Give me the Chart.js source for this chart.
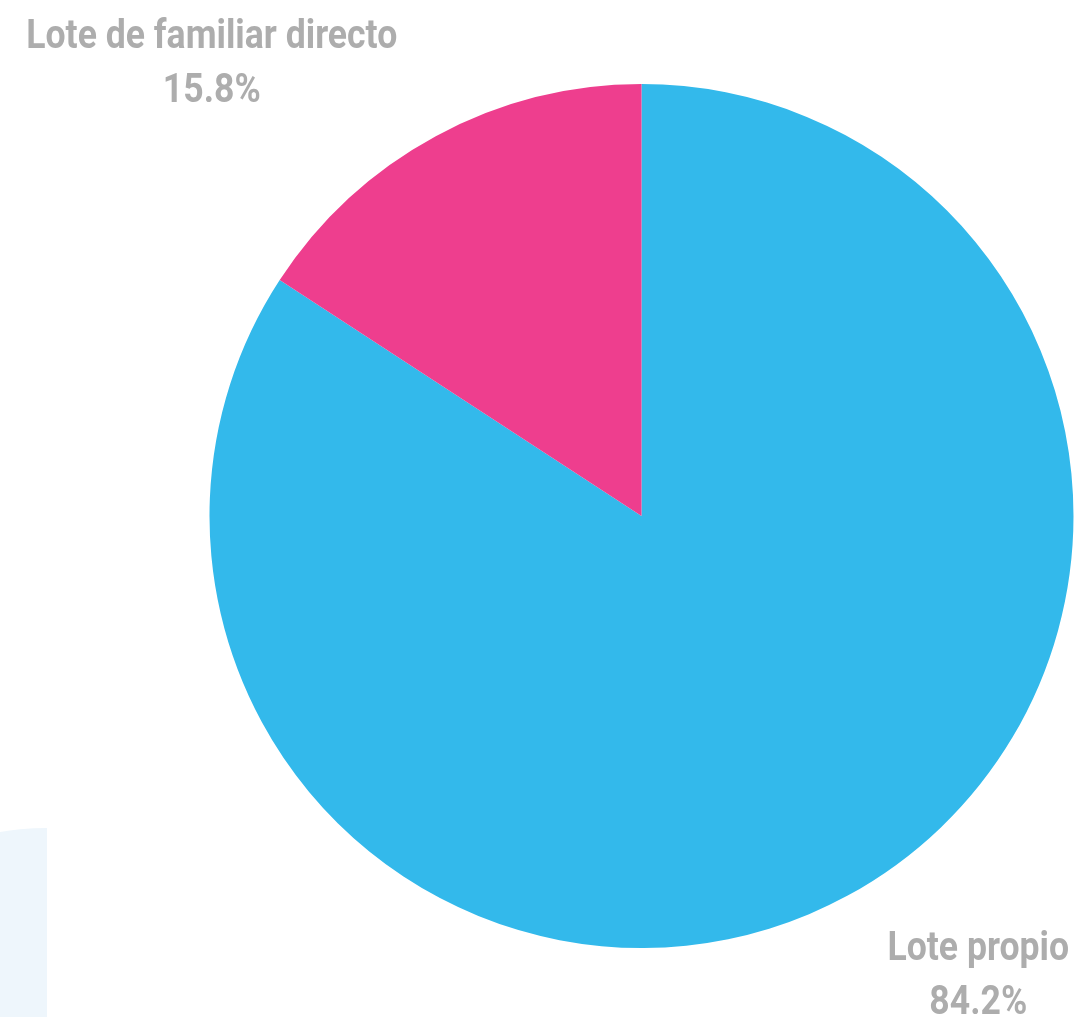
<!DOCTYPE html>
<html>
<head>
<meta charset="utf-8">
<script src="https://cdn.jsdelivr.net/npm/chart.js@4.4.0/dist/chart.umd.min.js"></script>
<style>
  html, body { margin: 0; padding: 0; background: #fff; }
  .wrap { position: relative; width: 1076px; height: 1017px; overflow: hidden; }
  .side { position: absolute; left: 0; top: 820px; width: 47px; height: 197px; overflow: hidden; }
  .side div {
    position: absolute; left: -229px; top: 8px; width: 552px; height: 552px;
    background: #EEF6FC; border-radius: 50%;
  }
  canvas { position: absolute; left: 0; top: 0; }
</style>
</head>
<body>
<div class="wrap">
  <div class="side"><div></div></div>
  <canvas id="pieChart" width="1076" height="1017"></canvas>
</div>
<script>
const labels = ["Lote propio", "Lote de familiar directo"];
const values = [84.2, 15.8];
const colors = ["#33B9EB", "#EE3E8E"];

// where each label sits, relative to the slice's outer edge at its mid-angle
const labelOffsets = [
  { dx: 131, dy: 64 },
  { dx: -224, dy: -88 }
];

const outsideLabels = {
  id: "outsideLabels",
  afterDatasetsDraw(chart) {
    const ctx = chart.ctx;
    const meta = chart.getDatasetMeta(0);
    ctx.save();
    ctx.fillStyle = "#ADADAD";
    ctx.font = "bold 40px Roboto";
    ctx.textAlign = "center";
    ctx.textBaseline = "alphabetic";
    meta.data.forEach((arc, i) => {
      const { x, y, startAngle, endAngle, outerRadius } = arc.getProps(["x", "y", "startAngle", "endAngle", "outerRadius"], true);
      const mid = (startAngle + endAngle) / 2;
      const px = x + Math.cos(mid) * outerRadius + labelOffsets[i].dx;
      const py = y + Math.sin(mid) * outerRadius + labelOffsets[i].dy;
      const lines = [labels[i], values[i].toFixed(1) + "%"];
      lines.forEach((t, j) => {
        ctx.save();
        ctx.translate(px, py + j * 54);
        ctx.scale(0.89, 1);
        ctx.fillText(t, 0, 0);
        ctx.restore();
      });
    });
    ctx.restore();
  }
};

new Chart(document.getElementById("pieChart"), {
  type: "pie",
  data: {
    labels: labels,
    datasets: [{
      data: values,
      backgroundColor: colors,
      borderWidth: 0,
      hoverOffset: 0
    }]
  },
  options: {
    responsive: false,
    animation: false,
    layout: { padding: { top: 84, bottom: 69, left: 209, right: 2 } },
    plugins: {
      legend: { display: false },
      tooltip: { enabled: false }
    }
  },
  plugins: [outsideLabels]
});
</script>
</body>
</html>
